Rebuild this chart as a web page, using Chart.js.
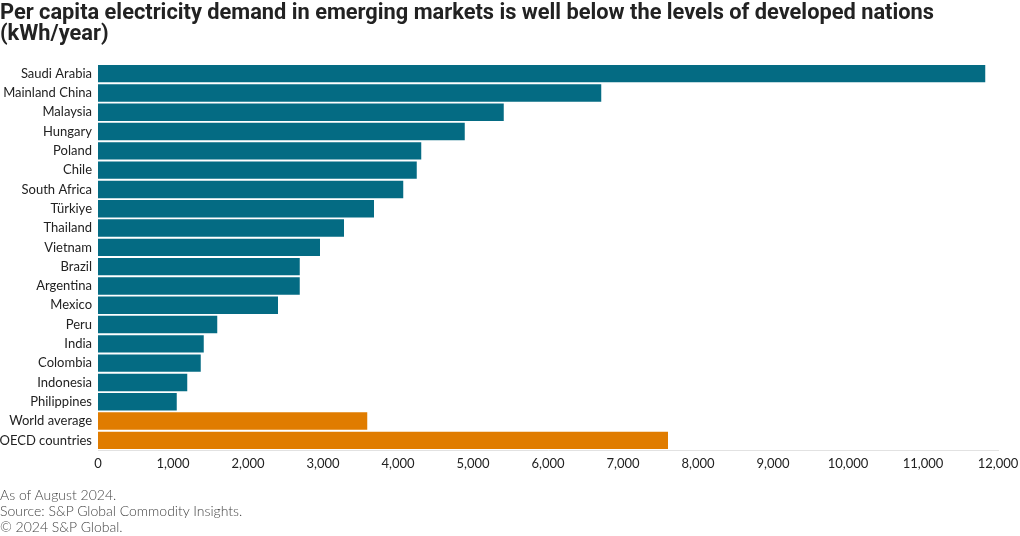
<!DOCTYPE html>
<html>
<head>
<meta charset="utf-8">
<script src="https://cdn.jsdelivr.net/npm/chart.js@4"></script>
<style>
  html, body { margin: 0; padding: 0; background: #fff; }
  #wrap { position: relative; width: 1020px; height: 536px; overflow: hidden; }
  #title { position: absolute; left: 0; top: 1px; font-family: Roboto, sans-serif;
    font-weight: bold; font-size: 21.8px; line-height: 21px; color: #222; }
  #foot { position: absolute; left: 0; top: 487px; font-family: Lato, 'Noto Sans', sans-serif;
    font-weight: 300; font-size: 14px; line-height: 16px; color: #444; }
  canvas { position: absolute; left: 0; top: 0; }
</style>
</head>
<body>
<div id="wrap">
  <canvas id="chart" width="1020" height="536"></canvas>
  <div id="title">Per capita electricity demand in emerging markets is well below the levels of developed nations<br>(kWh/year)</div>
  <div id="foot">As of August 2024.<br>Source: S&amp;P Global Commodity Insights.<br>© 2024 S&amp;P Global.</div>
</div>
<script>
const countries = ['Saudi Arabia', 'Mainland China', 'Malaysia', 'Hungary', 'Poland', 'Chile', 'South Africa',
  'Türkiye', 'Thailand', 'Vietnam', 'Brazil', 'Argentina', 'Mexico', 'Peru', 'India', 'Colombia',
  'Indonesia', 'Philippines', 'World average', 'OECD countries'];
const demand = [11830, 6710, 5410, 4890, 4310, 4250, 4070, 3680, 3280, 2960, 2690, 2690, 2400,
  1590, 1410, 1370, 1190, 1050, 3590, 7600];
const benchmarks = ['World average', 'OECD countries'];

const teal = '#046b83';
const orange = '#e07c00';

new Chart(document.getElementById('chart').getContext('2d'), {
  type: 'bar',
  data: {
    labels: countries,
    datasets: [{
      data: demand,
      backgroundColor: countries.map(c => benchmarks.includes(c) ? orange : teal),
      borderWidth: 0,
      barPercentage: 0.9,
      categoryPercentage: 1,
    }],
  },
  options: {
    indexAxis: 'y',
    responsive: false,
    animation: false,
    layout: { padding: { top: 64, right: 22, bottom: 59, left: 0 } },
    plugins: { legend: { display: false }, tooltip: { enabled: false } },
    scales: {
      x: {
        min: 0,
        max: 12000,
        afterFit: s => { s.height = 27; s.paddingLeft = 0; s.paddingRight = 0; },
        ticks: {
          stepSize: 1000,
          maxRotation: 0,
          padding: 6,
          color: '#222',
          font: { family: 'Lato, "Noto Sans", sans-serif', size: 13 },
          callback: v => v.toLocaleString('en-US'),
        },
        grid: { display: false, drawTicks: false },
        border: { display: true, color: '#e2e2e2', width: 1 },
      },
      y: {
        afterFit: s => { s.width = 98; },
        ticks: {
          padding: 6,
          color: '#222',
          font: { family: 'Lato, "Noto Sans", sans-serif', size: 13 },
        },
        grid: { display: false, drawTicks: false },
        border: { display: false },
      },
    },
  },
});
</script>
</body>
</html>
